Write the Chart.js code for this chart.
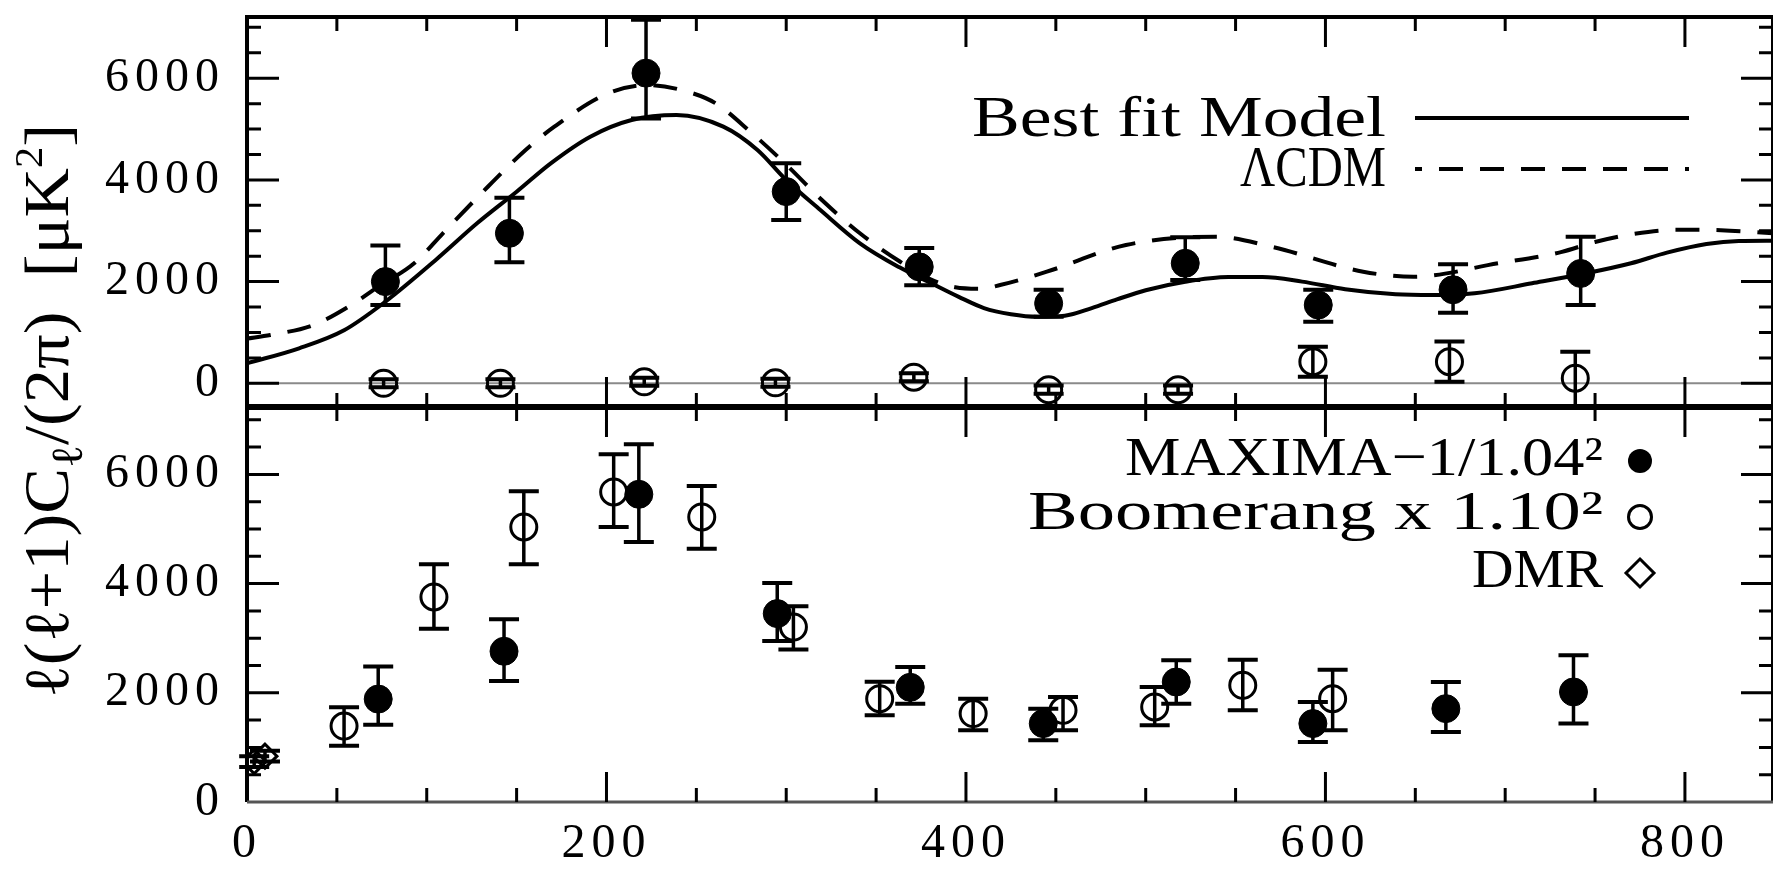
<!DOCTYPE html>
<html lang="en">
<head>
<meta charset="UTF-8">
<title>CMB power spectrum: MAXIMA, Boomerang, DMR</title>
<script src="https://cdn.jsdelivr.net/npm/chart.js"></script>
<style>
    body {
        margin: 0;
        background: #fff;
    }
    #wrap {
        position: relative;
        width: 1773px;
        height: 876px;
    }
</style>
</head>
<body>
<div id="wrap"><canvas id="cl" width="1773" height="876"></canvas></div>
<script>
// tick labels
const xTicks = [0, 200, 400, 600, 800];
const yTicks = [0, 2000, 4000, 6000];

// top panel: model curves (multipole l, l(l+1)C_l/2pi)
const bestFitL = [0, 29, 54, 77, 105, 128, 150, 169, 191, 214, 239, 265, 284, 300, 319, 341, 363, 380, 396, 410, 425, 440, 455, 470, 484, 500, 522, 546, 565, 587, 611, 639, 660, 683, 715, 745, 770, 790, 812, 830, 849];
const bestFitV = [393, 688, 1042, 1605, 2425, 3146, 3768, 4326, 4850, 5178, 5277, 5047, 4588, 3998, 3408, 2753, 2280, 1980, 1700, 1480, 1360, 1310, 1330, 1480, 1650, 1830, 1998, 2090, 2090, 2000, 1850, 1750, 1735, 1770, 1967, 2163, 2360, 2570, 2740, 2800, 2805];
const lcdmL = [0, 13, 37, 58, 73, 93, 109, 134, 155, 171, 201, 223, 245, 261, 280, 300, 320, 341, 363, 380, 394, 408, 419, 445, 489, 539, 570, 621, 649, 696, 731, 750, 772, 795, 820, 849];
const lcdmV = [880, 950, 1147, 1540, 1900, 2360, 2950, 3866, 4588, 5047, 5703, 5866, 5735, 5500, 4950, 4300, 3600, 2950, 2400, 2050, 1890, 1860, 1933, 2195, 2720, 2883, 2686, 2195, 2097, 2360, 2580, 2780, 2940, 3020, 3010, 2950];

// top panel: MAXIMA band powers
const maxTopL = [77, 146, 222, 300, 374, 446, 522, 596, 671, 742];
const maxTopV = [2000, 2950, 6100, 3770, 2290, 1570, 2360, 1540, 1840, 2160];
const maxTopLo = [1540, 2380, 5210, 3210, 1930, 1310, 2030, 1210, 1390, 1540];
const maxTopHi = [2710, 3650, 7150, 4330, 2660, 1840, 2870, 1840, 2340, 2880];

// top panel: open points near zero
const resTopL = [76, 141, 221, 294, 371, 446, 518, 593, 669, 739];
const resTopV = [0, 0, 30, 10, 120, -125, -125, 425, 425, 100];
const resTopLo = [-80, -80, -50, -70, 40, -205, -205, 130, 30, -460];
const resTopHi = [80, 80, 110, 90, 200, -45, -45, 720, 820, 620];

// bottom panel: MAXIMA / 1.04^2
const maxL = [73, 143, 218, 295, 369, 443, 517, 593, 667, 738];
const maxV = [1885, 2760, 5635, 3450, 2100, 1436, 2198, 1436, 1710, 2015];
const maxLo = [1415, 2216, 4762, 2949, 1800, 1130, 1800, 1099, 1283, 1436];
const maxHi = [2480, 3346, 6551, 4011, 2473, 1710, 2595, 1832, 2198, 2686];

// bottom panel: Boomerang x 1.10^2
const boomL = [54, 104, 154, 204, 253, 304, 352, 404, 454, 505, 554, 604];
const boomV = [1390, 3755, 5037, 5678, 5220, 3205, 1893, 1619, 1680, 1740, 2137, 1893];
const boomLo = [1030, 3175, 4353, 5037, 4640, 2791, 1590, 1313, 1313, 1404, 1680, 1313];
const boomHi = [1735, 4353, 5690, 6368, 5787, 3584, 2200, 1893, 1924, 2106, 2607, 2424];

// bottom panel: DMR
const dmrL = [4, 10];
const dmrV = [740, 840];
const dmrLo = [640, 740];
const dmrHi = [840, 940];

const serif = "'Liberation Serif', 'Times New Roman', serif";

function pts(xs, ys) {
    return xs.map((x, i) => ({ x: x, y: ys[i] }));
}

// text squeezed or stretched to a given width, right aligned
function fitText(ctx, txt, xRight, yMid, size, width) {
    ctx.save();
    ctx.font = size + 'px ' + serif;
    ctx.textBaseline = 'middle';
    ctx.textAlign = 'left';
    const w = ctx.measureText(txt).width;
    ctx.translate(xRight - width, yMid);
    ctx.scale(width / w, 1);
    ctx.fillText(txt, 0, 0);
    ctx.restore();
}

const errorBars = {
    id: 'errorBars',
    afterDatasetsDraw(chart) {
        const ctx = chart.ctx;
        const xs = chart.scales.x;
        ctx.save();
        ctx.strokeStyle = '#000';
        chart.data.datasets.forEach(ds => {
            if (!ds.errLo) return;
            const ys = chart.scales[ds.yAxisID];
            ds.data.forEach((p, j) => {
                const px = xs.getPixelForValue(p.x);
                const a = ys.getPixelForValue(ds.errLo[j]);
                const b = ys.getPixelForValue(ds.errHi[j]);
                ctx.lineWidth = 3.5;
                ctx.beginPath();
                ctx.moveTo(px, a);
                ctx.lineTo(px, b);
                ctx.stroke();
                ctx.lineWidth = 4;
                ctx.beginPath();
                ctx.moveTo(px - 15, a); ctx.lineTo(px + 15, a);
                ctx.moveTo(px - 15, b); ctx.lineTo(px + 15, b);
                ctx.stroke();
            });
        });
        ctx.restore();
    }
};

const frame = {
    id: 'frame',
    beforeDraw(chart) {
        chart.ctx.letterSpacing = '6px';
    },
    beforeDatasetsDraw(chart) {
        const ctx = chart.ctx;
        const ca = chart.chartArea;
        ctx.letterSpacing = '0px';
        const z = chart.scales.yU.getPixelForValue(0);
        ctx.save();
        ctx.strokeStyle = '#8a8a8a';
        ctx.lineWidth = 2;
        ctx.beginPath();
        ctx.moveTo(ca.left, z);
        ctx.lineTo(ca.right, z);
        ctx.stroke();
        ctx.restore();
    },
    afterDraw(chart) {
        const ctx = chart.ctx;
        const ca = chart.chartArea;
        const xs = chart.scales.x, yU = chart.scales.yU, yL = chart.scales.yL;
        const top = yU.top, mid = yU.bottom, bot = yL.bottom;
        ctx.save();
        ctx.letterSpacing = '0px';
        ctx.strokeStyle = '#000';

        // frame
        ctx.lineWidth = 4;
        ctx.beginPath();
        ctx.moveTo(ca.left, top); ctx.lineTo(ca.right, top);
        ctx.moveTo(ca.left, top - 2); ctx.lineTo(ca.left, bot);
        ctx.moveTo(ca.right, top); ctx.lineTo(ca.right, bot);
        ctx.stroke();
        ctx.lineWidth = 6;
        ctx.beginPath();
        ctx.moveTo(ca.left, mid); ctx.lineTo(ca.right, mid);
        ctx.stroke();
        ctx.strokeStyle = '#555';
        ctx.lineWidth = 3;
        ctx.beginPath();
        ctx.moveTo(ca.left, bot); ctx.lineTo(ca.right, bot);
        ctx.stroke();

        // inward ticks
        ctx.strokeStyle = '#000';
        ctx.lineWidth = 3;
        ctx.beginPath();
        for (let v = 50; v <= xs.max; v += 50) {
            const px = xs.getPixelForValue(v);
            const len = v % 200 === 0 ? 30 : 14;
            ctx.moveTo(px, top); ctx.lineTo(px, top + len);
            ctx.moveTo(px, mid - len); ctx.lineTo(px, mid + len);
            ctx.moveTo(px, bot - len); ctx.lineTo(px, bot);
        }
        [yU, yL].forEach(s => {
            for (let v = Math.ceil(s.min / 500) * 500; v <= s.max; v += 500) {
                const py = s.getPixelForValue(v);
                if (Math.abs(py - s.bottom) < 3) continue;
                const len = v % 2000 === 0 ? 32 : 14;
                ctx.moveTo(ca.left, py); ctx.lineTo(ca.left + len, py);
                ctx.moveTo(ca.right - len, py); ctx.lineTo(ca.right, py);
            }
        });
        ctx.stroke();

        // top legend
        ctx.fillStyle = '#000';
        fitText(ctx, 'Best fit Model', 1386, 121, 57, 414);
        fitText(ctx, '\u039BCDM', 1386, 171, 57, 146);
        ctx.lineWidth = 4;
        ctx.beginPath();
        ctx.moveTo(1415, 118); ctx.lineTo(1689, 118);
        ctx.stroke();
        ctx.setLineDash([24, 17]);
        ctx.lineDashOffset = 17;
        ctx.beginPath();
        ctx.moveTo(1415, 169); ctx.lineTo(1689, 169);
        ctx.stroke();
        ctx.setLineDash([]);

        // bottom legend
        fitText(ctx, 'MAXIMA\u22121/1.04\u00B2', 1603, 461, 55, 478);
        fitText(ctx, 'Boomerang x 1.10\u00B2', 1603, 515, 55, 575);
        fitText(ctx, 'DMR', 1603, 573, 55, 131);
        ctx.beginPath();
        ctx.arc(1640, 461, 12, 0, Math.PI * 2);
        ctx.fill();
        ctx.lineWidth = 3;
        ctx.beginPath();
        ctx.arc(1640, 517, 11.5, 0, Math.PI * 2);
        ctx.stroke();
        ctx.beginPath();
        ctx.moveTo(1640, 559); ctx.lineTo(1654, 573); ctx.lineTo(1640, 587); ctx.lineTo(1626, 573);
        ctx.closePath();
        ctx.stroke();

        // y axis title, rotated
        const size = 63;
        const runs = [
            { t: '\u2113(\u2113+1)C', s: 1, dy: 0 },
            { t: '\u2113', s: 0.7, dy: 0.22 },
            { t: '/(2\u03C0)  [\u03BCK', s: 1, dy: 0 },
            { t: '2', s: 0.62, dy: -0.42 },
            { t: ']', s: 1, dy: 0 }
        ];
        let total = 0;
        runs.forEach(r => {
            ctx.font = (size * r.s) + 'px ' + serif;
            r.w = ctx.measureText(r.t).width;
            total += r.w;
        });
        const len = 574;
        ctx.translate(68, 411);
        ctx.rotate(-Math.PI / 2);
        ctx.scale(len / total, 1);
        ctx.textBaseline = 'alphabetic';
        ctx.textAlign = 'left';
        let x = -total / 2;
        runs.forEach(r => {
            ctx.font = (size * r.s) + 'px ' + serif;
            ctx.fillText(r.t, x, r.dy * size);
            x += r.w;
        });
        ctx.restore();
    }
};

const tickFont = { family: serif, size: 48 };
const plainNumber = v => String(v);

// fixed axis boxes, no automatic label padding
const fitY = s => {
    s.width = 247;
    s.paddingTop = 0;
    s.paddingBottom = 0;
};
const fitX = s => {
    s.height = 74;
    s.paddingLeft = 0;
    s.paddingRight = 0;
};

new Chart(document.getElementById('cl'), {
    type: 'scatter',
    data: {
        datasets: [
            {
                label: 'Best fit Model',
                data: pts(bestFitL, bestFitV),
                yAxisID: 'yU',
                showLine: true,
                borderColor: '#000',
                borderWidth: 4,
                pointRadius: 0,
                cubicInterpolationMode: 'monotone'
            },
            {
                label: '\u039BCDM',
                data: pts(lcdmL, lcdmV),
                yAxisID: 'yU',
                showLine: true,
                borderColor: '#000',
                borderWidth: 4,
                borderDash: [24, 17],
                pointRadius: 0,
                cubicInterpolationMode: 'monotone'
            },
            {
                label: 'MAXIMA (top)',
                data: pts(maxTopL, maxTopV),
                yAxisID: 'yU',
                errLo: maxTopLo, errHi: maxTopHi,
                pointRadius: 14,
                backgroundColor: '#000',
                borderColor: '#000'
            },
            {
                label: 'open (top)',
                data: pts(resTopL, resTopV),
                yAxisID: 'yU',
                errLo: resTopLo, errHi: resTopHi,
                pointRadius: 13,
                borderWidth: 3,
                backgroundColor: 'rgba(0,0,0,0)',
                borderColor: '#000'
            },
            {
                label: 'MAXIMA-1/1.04^2',
                data: pts(maxL, maxV),
                yAxisID: 'yL',
                errLo: maxLo, errHi: maxHi,
                pointRadius: 14,
                backgroundColor: '#000',
                borderColor: '#000'
            },
            {
                label: 'Boomerang x 1.10^2',
                data: pts(boomL, boomV),
                yAxisID: 'yL',
                errLo: boomLo, errHi: boomHi,
                pointRadius: 13,
                borderWidth: 3,
                backgroundColor: 'rgba(0,0,0,0)',
                borderColor: '#000'
            },
            {
                label: 'DMR',
                data: pts(dmrL, dmrV),
                yAxisID: 'yL',
                errLo: dmrLo, errHi: dmrHi,
                pointStyle: 'rectRot',
                pointRadius: 12,
                borderWidth: 3,
                backgroundColor: 'rgba(0,0,0,0)',
                borderColor: '#000'
            }
        ]
    },
    options: {
        responsive: false,
        animation: false,
        devicePixelRatio: 1,
        layout: { autoPadding: false, padding: { top: 17, right: -4, bottom: 0, left: 0 } },
        plugins: { legend: { display: false }, tooltip: { enabled: false } },
        scales: {
            x: {
                type: 'linear',
                position: 'bottom',
                min: 0,
                max: 849,
                afterBuildTicks: s => { s.ticks = xTicks.map(v => ({ value: v })); },
                afterFit: fitX,
                grid: { display: false, drawTicks: false },
                border: { display: false },
                ticks: { font: tickFont, color: '#000', padding: 14, maxRotation: 0, callback: plainNumber }
            },
            yL: {
                type: 'linear',
                position: 'left',
                stack: 'panels',
                stackWeight: 395,
                weight: 1,
                min: 0,
                max: 7234,
                afterBuildTicks: s => { s.ticks = yTicks.map(v => ({ value: v })); },
                afterFit: fitY,
                grid: { display: false, drawTicks: false },
                border: { display: false },
                ticks: { font: tickFont, color: '#000', padding: 22, callback: plainNumber }
            },
            yU: {
                type: 'linear',
                position: 'left',
                stack: 'panels',
                stackWeight: 390,
                weight: 2,
                min: -466,
                max: 7204,
                afterBuildTicks: s => { s.ticks = yTicks.map(v => ({ value: v })); },
                afterFit: fitY,
                grid: { display: false, drawTicks: false },
                border: { display: false },
                ticks: { font: tickFont, color: '#000', padding: 22, callback: plainNumber }
            }
        }
    },
    plugins: [frame, errorBars]
});
</script>
</body>
</html>
